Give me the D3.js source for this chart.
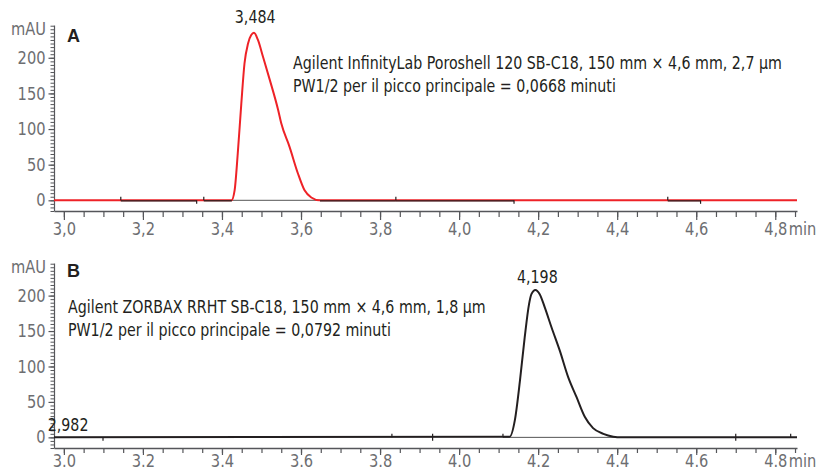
<!DOCTYPE html>
<html><head><meta charset="utf-8">
<script src="https://cdn.jsdelivr.net/npm/d3@7"></script>
<style>
html,body{margin:0;padding:0;background:#fff;}
svg{display:block;}
text{font-family:"Liberation Sans Narrow","DejaVu Sans Condensed","Roboto Condensed",sans-serif;font-stretch:condensed;}
</style></head>
<body>
<script>
// ---------- data ----------
const timeA   = [2.975, 3.424, 3.432, 3.440, 3.449, 3.457, 3.466, 3.474, 3.481, 3.491, 3.504, 3.521, 3.542, 3.550, 3.571, 3.592, 3.609, 3.626, 3.647, 4.855];
const signalA = [0, 0, 14, 66, 136, 192, 220, 232, 235, 225, 201, 169, 127, 108, 75, 38, 14, 4, 0, 0];
const timeB   = [2.975, 4.128, 4.141, 4.154, 4.166, 4.177, 4.183, 4.193, 4.204, 4.217, 4.234, 4.255, 4.276, 4.297, 4.318, 4.339, 4.365, 4.390, 4.410, 4.855];
const signalB = [0, 1, 24, 80, 141, 188, 202, 208, 202, 183, 155, 122, 85, 57, 29, 13, 5, 1, 0, 0];

const xMajorTicks = [3.0, 3.2, 3.4, 3.6, 3.8, 4.0, 4.2, 4.4, 4.6, 4.8];
const xLabelsA = ["3,0","3,2","3,4","3,6","3,8","4,0","4,2","4,4","4,6","4,8"];
const xLabelsB = ["3.0","3.2","3.4","3.6","3.8","4.0","4.2","4.4","4.6","4.8"];
const yMajorTicks = [0, 50, 100, 150, 200];
const yLabels = ["0","50","100","150","200"];

// integration baseline segments (start, end) in min
const baseSegA = [[3.144, 3.336], [3.354, 3.425], [3.648, 3.840], [3.840, 4.139], [4.528, 4.611]];
// integration event tick marks: time, direction (1 up, -1 down, 0 both)
const marksA = [[3.144, 1], [3.336, -1], [3.354, 1], [3.840, 1], [4.139, -1], [4.528, 1], [4.611, -1]];
const peakBaseA = [3.425, 3.648];
const marksB = [[3.099, -1], [3.830, 1], [3.933, 0], [4.111, 1], [4.700, 0], [4.839, 1]];
const peakBaseB = [4.111, 4.40];

const peakLabelsA = [{t: 3.484, text: "3,484"}];
const peakLabelsB = [{t: 4.198, text: "4,198"}];
const startLabelB = {t: 2.982, text: "2,982"};

const notesA = ["Agilent InfinityLab Poroshell 120 SB-C18, 150 mm × 4,6 mm, 2,7 µm",
                "PW1/2 per il picco principale = 0,0668 minuti"];
const notesB = ["Agilent ZORBAX RRHT SB-C18, 150 mm × 4,6 mm, 1,8 µm",
                "PW1/2 per il picco principale = 0,0792 minuti"];

// ---------- layout ----------
const W = 817, H = 472;
const xDomain = [2.975, 4.855];
const yDomain = [-15, 246];
const axisCol = "#55565a", labCol = "#6d6e71", txtCol = "#231f20";
const red = "#ee2227";
const FS = 17;

const svg = d3.select("body").append("svg").attr("width", W).attr("height", H);
const x = d3.scaleLinear().domain(xDomain).range([54, 797]);

// horizontal condensing factor so the installed font matches the condensed original
const probe = svg.append("text").attr("font-size", FS).text(notesA[0]);
const F = Math.min(1, 489 / probe.node().getComputedTextLength());
probe.remove();

function addText(parent, px, py, str, o) {
  const t = parent.append("text")
    .attr("transform", `translate(${px},${py}) scale(${F},1)`)
    .attr("text-anchor", o.anchor || "start")
    .attr("dy", o.dy || null)
    .attr("fill", o.fill || txtCol)
    .attr("font-size", o.size || FS)
    .text(str);
  return t;
}

function panel(opts) {
  const y = d3.scaleLinear().domain(yDomain).range([opts.bottom, opts.top]);
  const g = svg.append("g");

  // y axis minor
  const yMinor = d3.range(-15, 246, 5);
  g.append("g").attr("transform", `translate(54,0)`)
    .call(d3.axisLeft(y).tickValues(yMinor).tickSize(3.5).tickFormat("").tickSizeOuter(0))
    .call(s => s.select(".domain").remove())
    .call(s => s.selectAll("line").attr("stroke", axisCol));
  const ya = g.append("g").attr("transform", `translate(54,0)`)
    .call(d3.axisLeft(y).tickValues(yMajorTicks).tickSize(5.5).tickPadding(3)
      .tickFormat((d, i) => yLabels[i]).tickSizeOuter(0));
  ya.select(".domain").attr("stroke", axisCol).attr("stroke-width", 1.2);
  ya.selectAll("line").attr("stroke", axisCol).attr("stroke-width", 1.2);
  ya.selectAll("text").attr("fill", labCol).attr("font-size", FS + 0.5).attr("font-family", null)
    .attr("x", -8.5 / F).attr("transform", `scale(${F},1)`);
  addText(g, 46, y(240), "mAU", {anchor: "end", dy: "0.34em", fill: labCol, size: FS + 0.5});

  // x axis minor
  const xMinor = d3.range(3.0, 4.86, 0.05);
  g.append("g").attr("transform", `translate(0,${opts.bottom})`)
    .call(d3.axisBottom(x).tickValues(xMinor).tickSize(opts.minorLen).tickFormat("").tickSizeOuter(0))
    .call(s => s.select(".domain").remove())
    .call(s => s.selectAll("line").attr("stroke", axisCol).attr("stroke-width", 1.2));
  const xa = g.append("g").attr("transform", `translate(0,${opts.bottom})`)
    .call(d3.axisBottom(x).tickValues(xMajorTicks).tickSize(opts.majorLen).tickPadding(opts.xPad)
      .tickFormat((d, i) => opts.xLabels[i]).tickSizeOuter(0));
  xa.select(".domain").attr("stroke", axisCol).attr("stroke-width", 1.4);
  xa.selectAll("line").attr("stroke", axisCol).attr("stroke-width", 1.2);
  xa.selectAll("text").attr("fill", labCol).attr("font-size", FS + 0.5).attr("font-family", null)
    .attr("transform", `scale(${F},1)`);
  addText(g, x(4.8) + 13.5, opts.bottom + opts.xPad + opts.majorLen, "min", {dy: "0.71em", fill: labCol, size: FS + 0.5});

  // panel letter
  g.append("text").attr("x", 67).attr("y", opts.top + opts.letterDy)
    .attr("font-size", 18).attr("font-weight", "bold").attr("fill", txtCol)
    .style("font-family", '"Liberation Sans","Arial",sans-serif').text(opts.letter);

  // peak baseline (thin)
  g.append("line").attr("x1", x(opts.peakBase[0])).attr("x2", x(opts.peakBase[1]))
    .attr("y1", y(0)).attr("y2", y(0)).attr("stroke", "#555").attr("stroke-width", 1);

  // chromatogram
  const line = d3.line().x(d => x(d[0])).y(d => y(d[1])).curve(d3.curveMonotoneX);
  const pts = opts.time.map((t, i) => [t, opts.signal[i]]);
  g.append("path").datum(pts).attr("d", line).attr("fill", "none")
    .attr("stroke", opts.color).attr("stroke-width", 2).attr("stroke-linejoin", "round");

  // integration baseline segments
  (opts.segs || []).forEach(s => {
    g.append("line").attr("x1", x(s[0])).attr("x2", x(s[1]))
      .attr("y1", y(0) + 0.5).attr("y2", y(0) + 0.5).attr("stroke", "#231f20").attr("stroke-width", 1.3);
  });
  opts.marks.forEach(m => {
    const y0 = y(0);
    const a = m[1] === -1 ? y0 : y0 - 3.5;
    const b = m[1] === 1 ? y0 : y0 + 3.5;
    g.append("line").attr("x1", x(m[0])).attr("x2", x(m[0])).attr("y1", a).attr("y2", b)
      .attr("stroke", "#231f20").attr("stroke-width", 1.2);
  });

  // peak labels
  opts.peakLabels.forEach(p => addText(g, x(p.t), opts.peakLabelY, p.text, {anchor: "middle"}));

  // notes
  opts.notes.forEach((n, i) => addText(g, opts.noteX, opts.noteY + i * 23, n, {}));
  return {g, y};
}

const pA = panel({top: 25, bottom: 211, xLabels: xLabelsA, xPad: 3, majorLen: 9, minorLen: 6, letter: "A", letterDy: 17,
  time: timeA, signal: signalA, color: red, segs: baseSegA, marks: marksA, peakBase: peakBaseA,
  peakLabels: peakLabelsA, peakLabelY: 23, notes: notesA, noteX: 293, noteY: 69});
const pB = panel({top: 263, bottom: 448, xLabels: xLabelsB, xPad: 0, majorLen: 7, minorLen: 5, letter: "B", letterDy: 14,
  time: timeB, signal: signalB, color: "#231f20", segs: [], marks: marksB, peakBase: peakBaseB,
  peakLabels: peakLabelsB, peakLabelY: 283, notes: notesB, noteX: 68, noteY: 313});

addText(pB.g, x(startLabelB.t) - 9, 431, startLabelB.text, {});
</script>
</body></html>
